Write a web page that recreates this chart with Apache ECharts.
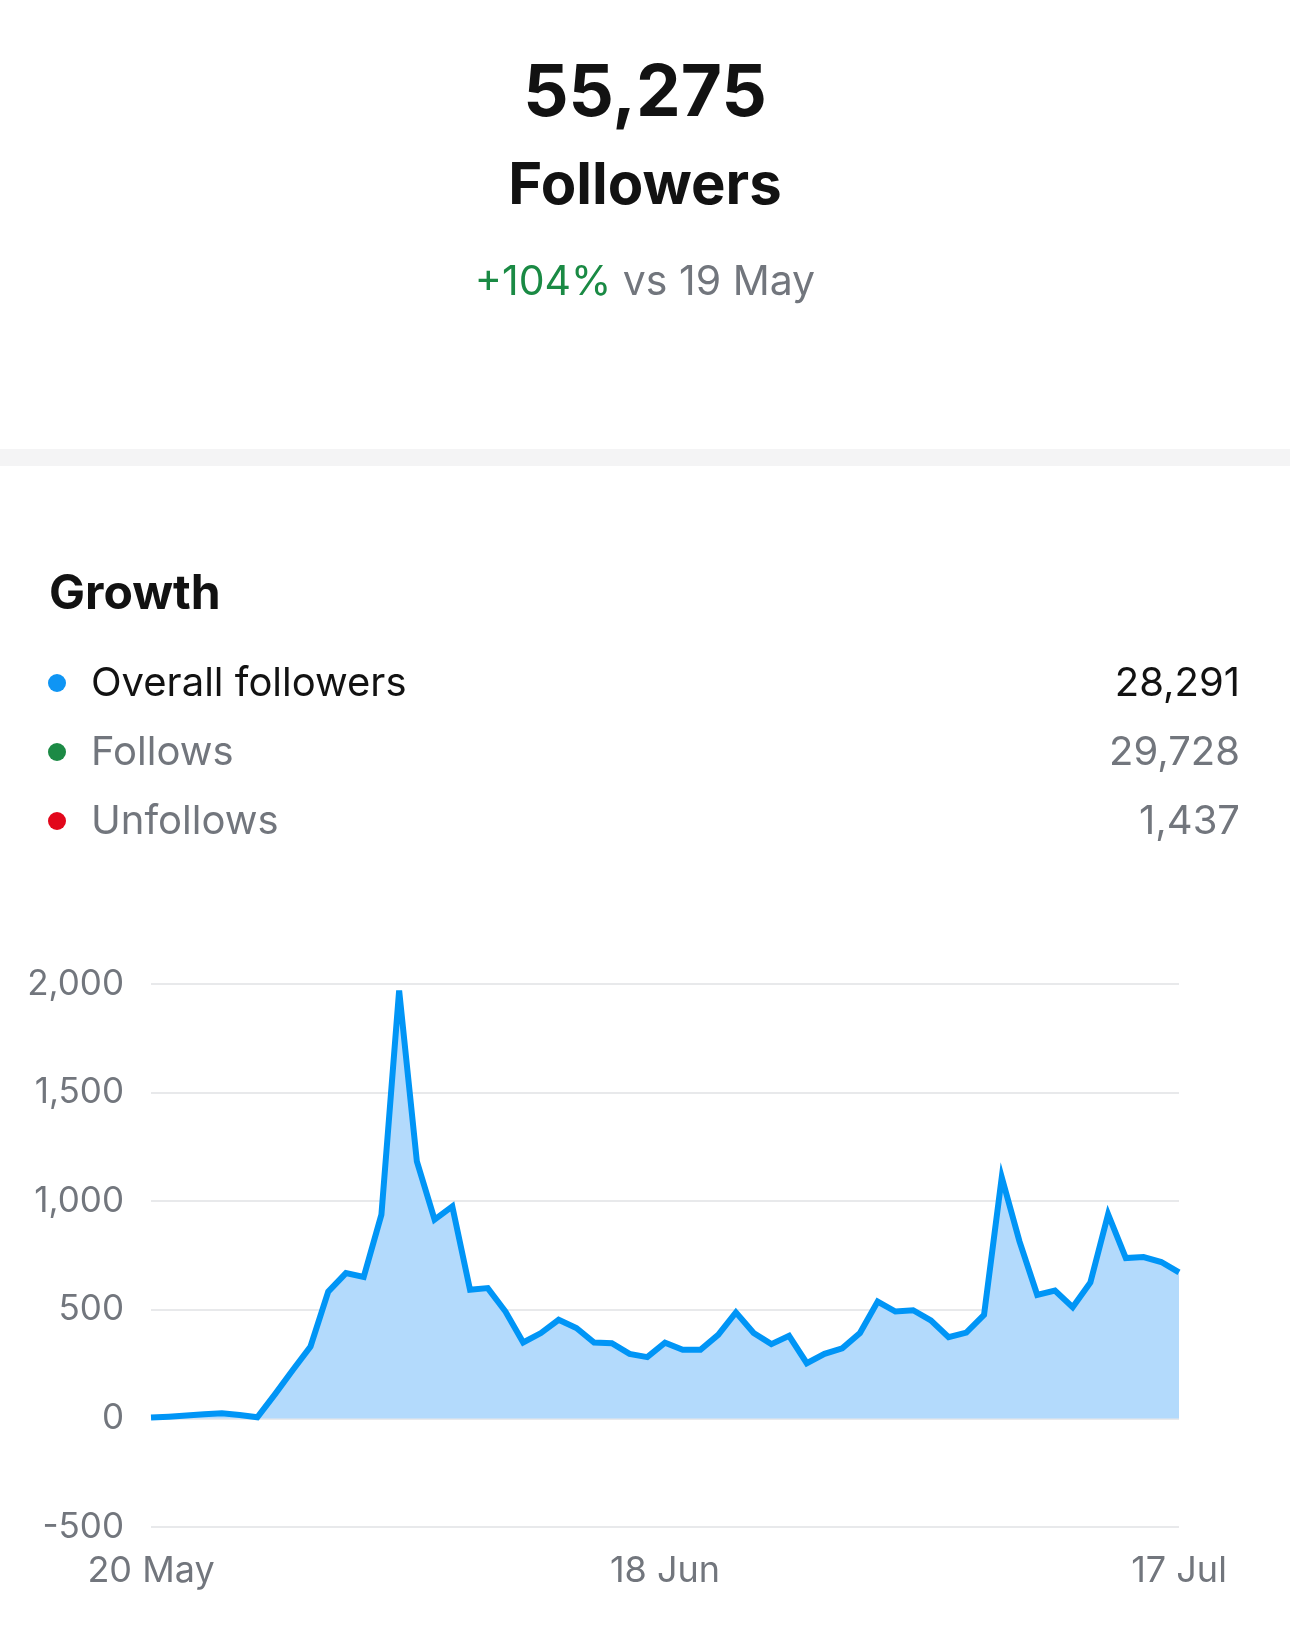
<!DOCTYPE html>
<html>
<head>
<meta charset="utf-8">
<script src="https://cdn.jsdelivr.net/npm/echarts@6/dist/echarts.min.js"></script>
<style>
  html, body { margin: 0; padding: 0; background: #ffffff; }
  #chart { width: 1290px; height: 1631px; }
</style>
</head>
<body>
<div id="chart"></div>
<script>
// ---- Data ----
var dates = [
  "20 May","21 May","22 May","23 May","24 May","25 May","26 May","27 May","28 May","29 May","30 May","31 May",
  "1 Jun","2 Jun","3 Jun","4 Jun","5 Jun","6 Jun","7 Jun","8 Jun","9 Jun","10 Jun","11 Jun","12 Jun","13 Jun",
  "14 Jun","15 Jun","16 Jun","17 Jun","18 Jun","19 Jun","20 Jun","21 Jun","22 Jun","23 Jun","24 Jun","25 Jun",
  "26 Jun","27 Jun","28 Jun","29 Jun","30 Jun",
  "1 Jul","2 Jul","3 Jul","4 Jul","5 Jul","6 Jul","7 Jul","8 Jul","9 Jul","10 Jul","11 Jul","12 Jul","13 Jul",
  "14 Jul","15 Jul","16 Jul","17 Jul"
];
var overallFollowers = [
  4, 8, 13, 19, 24, 16, 5, 112, 223, 331, 584, 669, 651, 938, 1970, 1183, 915, 976, 592, 600,
  492, 350, 393, 454, 416, 349, 346, 297, 282, 349, 316, 316, 385, 488, 393, 342, 380, 254, 297, 323,
  393, 538, 492, 498, 451, 374, 395, 477, 1110, 815, 569, 589, 512, 626, 940, 738, 743, 720, 672
];
var yTicks = { min: -500, max: 2000, interval: 500 };

var headline = { total: "55,275", label: "Followers", change: "+104%", compare: " vs 19 May" };
var sectionTitle = "Growth";
var legendNames = ["Overall followers", "Follows", "Unfollows"];
var legendValues = ["28,291", "29,728", "1,437"];
var legendColors = ["#0f95f4", "#1c8a45", "#e2071b"];
var legendTextColors = ["#121212", "#72767d", "#72767d"];

// ---- Chart ----
var FONT = "Inter, 'Noto Sans', 'Liberation Sans', sans-serif";
var chart = echarts.init(document.getElementById('chart'), null, { renderer: 'canvas' });

var graphics = [
  { type: 'text', style: { text: headline.total, x: 645, y: 95, textAlign: 'center', textVerticalAlign: 'middle',
      font: 'bold 71px ' + FONT, fill: '#121212' } },
  { type: 'text', style: { text: headline.label, x: 645, y: 187, textAlign: 'center', textVerticalAlign: 'middle',
      font: 'bold 58px ' + FONT, fill: '#121212' } },
  { type: 'rect', shape: { x: 0, y: 449, width: 1290, height: 17 }, style: { fill: '#f4f4f5' } },
  { type: 'text', style: { text: sectionTitle, x: 49, y: 595, textAlign: 'left', textVerticalAlign: 'middle',
      font: 'bold 48px ' + FONT, fill: '#121212' } },
  { type: 'text', x: 645, y: 283,
    style: {
      text: '{g|' + headline.change + '}{s|' + headline.compare + '}',
      textAlign: 'center', textVerticalAlign: 'middle',
      rich: {
        g: { fontSize: 41, fontFamily: FONT, fill: '#1a8a44', color: '#1a8a44' },
        s: { fontSize: 41, fontFamily: FONT, fill: '#72767d', color: '#72767d' }
      }
    }
  }
];

var rowY = [684, 753, 822];
for (var i = 0; i < legendNames.length; i++) {
  graphics.push({ type: 'circle', shape: { cx: 57, cy: rowY[i] - 1, r: 9 }, style: { fill: legendColors[i] } });
  graphics.push({ type: 'text', style: { text: legendNames[i], x: 91, y: rowY[i], textAlign: 'left', textVerticalAlign: 'middle',
      font: '40px ' + FONT, fill: legendTextColors[i] } });
  graphics.push({ type: 'text', style: { text: legendValues[i], x: 1240, y: rowY[i], textAlign: 'right', textVerticalAlign: 'middle',
      font: '40px ' + FONT, fill: legendTextColors[i] } });
}

chart.setOption({
  animation: false,
  backgroundColor: '#ffffff',
  graphic: graphics,
  grid: { left: 151, right: 111, top: 984, bottom: 104, containLabel: false },
  xAxis: {
    type: 'category',
    data: dates,
    boundaryGap: false,
    axisLine: { show: false },
    axisTick: { show: false },
    axisLabel: {
      interval: 28,
      margin: 26,
      color: '#72767d',
      fontSize: 36,
      fontFamily: FONT
    },
    splitLine: { show: false }
  },
  yAxis: {
    type: 'value',
    min: yTicks.min,
    max: yTicks.max,
    interval: yTicks.interval,
    axisLine: { show: false },
    axisTick: { show: false },
    axisLabel: {
      margin: 27,
      color: '#72767d',
      fontSize: 35,
      fontFamily: FONT,
      formatter: function (v) { return v.toLocaleString('en-US'); }
    },
    splitLine: { show: true, lineStyle: { color: '#e8e9eb', width: 2 } }
  },
  series: [{
    type: 'line',
    data: overallFollowers,
    symbol: 'none',
    smooth: false,
    lineStyle: { color: '#0095f6', width: 6, join: 'miter', miterLimit: 10 },
    areaStyle: { color: '#b3dafc', opacity: 1, origin: 'auto' },
    z: 3
  }]
});
</script>
</body>
</html>
